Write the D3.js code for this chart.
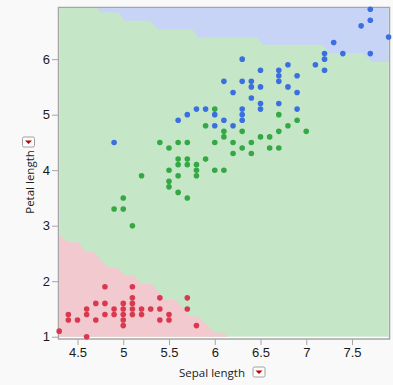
<!DOCTYPE html>
<html>
<head>
<meta charset="utf-8">
<script src="https://cdn.jsdelivr.net/npm/d3@7"></script>
<style>
	html, body { margin: 0; padding: 0; background: #f9f9f9; }
	svg { display: block; font-family: "Open Sans", "Noto Sans", sans-serif; }
</style>
</head>
<body>
<svg width="393" height="385"></svg>
<script>
// observed points (sepal length, petal length) by species
const setosaSepal = [4.3, 4.4, 4.4, 4.5, 4.6, 4.6, 4.6, 4.7, 4.7, 4.8, 4.8, 4.8, 4.9, 4.9, 5.0, 5.0, 5.0, 5.0, 5.0, 5.1, 5.1, 5.1, 5.1, 5.1, 5.2, 5.2, 5.3, 5.4, 5.4, 5.4, 5.5, 5.5, 5.7, 5.7, 5.8];
const setosaPetal = [1.1, 1.3, 1.4, 1.3, 1.0, 1.4, 1.5, 1.3, 1.6, 1.4, 1.6, 1.9, 1.4, 1.5, 1.2, 1.3, 1.4, 1.5, 1.6, 1.4, 1.5, 1.6, 1.7, 1.9, 1.4, 1.5, 1.5, 1.3, 1.5, 1.7, 1.3, 1.4, 1.5, 1.7, 1.2];

const versicolorSepal = [5.4, 5.5, 5.6, 5.7, 5.6, 5.6, 5.7, 5.7, 5.8, 5.5, 5.8, 5.2, 5.6, 5.8, 5.5, 5.5, 5.6, 5.7, 5.0, 4.9, 5.0, 5.1, 5.9, 5.9, 6.0, 6.0, 6.0, 6.1, 6.1, 6.1, 6.2, 6.2, 6.3, 6.3, 6.4, 6.4, 6.5, 6.6, 6.6, 6.7, 6.7, 6.7, 6.8, 6.9, 7.0];
const versicolorPetal = [4.5, 4.4, 4.5, 4.5, 4.2, 4.1, 4.2, 4.1, 4.1, 4.0, 4.0, 3.9, 3.9, 3.9, 3.8, 3.7, 3.6, 3.5, 3.5, 3.3, 3.3, 3.0, 4.2, 4.8, 5.1, 4.5, 4.0, 4.7, 4.6, 4.0, 4.5, 4.3, 4.7, 4.4, 4.5, 4.3, 4.6, 4.6, 4.4, 4.4, 4.7, 5.0, 4.8, 4.9, 4.7];

const virginicaSepal = [4.9, 5.6, 5.7, 5.8, 5.9, 6.0, 6.0, 6.1, 6.2, 6.3, 6.3, 6.3, 6.5, 6.5, 6.7, 6.9, 6.4, 6.2, 6.1, 6.3, 6.4, 6.4, 6.5, 6.8, 6.9, 6.7, 6.7, 6.7, 6.5, 6.9, 6.3, 6.8, 7.1, 7.2, 7.2, 7.2, 7.3, 7.4, 7.7, 7.6, 7.7, 7.7, 7.9];
const virginicaPetal = [4.5, 4.9, 5.0, 5.1, 5.1, 5.0, 4.8, 4.9, 4.8, 5.1, 5.0, 4.9, 5.2, 5.1, 5.2, 5.1, 5.3, 5.4, 5.6, 5.6, 5.6, 5.5, 5.5, 5.5, 5.4, 5.6, 5.7, 5.8, 5.8, 5.7, 6.0, 5.9, 5.9, 5.8, 6.0, 6.1, 6.3, 6.1, 6.1, 6.6, 6.7, 6.9, 6.4];

// decision region boundaries (data units)
const setosaRegionX = [4.30, 4.30, 4.40, 4.51, 4.58, 4.67, 4.83, 4.93, 5.02, 5.11, 5.20, 5.31, 5.46, 5.57, 5.73, 5.82, 6.00, 6.09, 6.14];
const setosaRegionY = [1.00, 2.83, 2.70, 2.70, 2.54, 2.54, 2.24, 2.24, 2.11, 2.11, 1.95, 1.95, 1.66, 1.66, 1.37, 1.36, 1.07, 1.07, 1.00];
const virginicaRegionX = [4.71, 4.76, 4.95, 5.02, 5.29, 5.38, 5.75, 5.82, 6.46, 6.53, 7.17, 7.26, 7.62, 7.72, 7.90, 7.90];
const virginicaRegionY = [6.92, 6.84, 6.84, 6.69, 6.69, 6.54, 6.54, 6.39, 6.39, 6.26, 6.26, 6.11, 6.11, 5.95, 5.95, 6.92];

const xTicks = [4.5, 5, 5.5, 6, 6.5, 7, 7.5];
const yTicks = [1, 2, 3, 4, 5, 6];

const svg = d3.select('svg');

let x = d3.scaleLinear().domain([4.3, 7.9]).range([59.2, 388.6]);
let y = d3.scaleLinear().domain([1, 6.92]).range([336.7, 8.1]);

// frame
svg.append('rect')
	.attr('x', 58.5).attr('y', 7.5)
	.attr('width', 331).attr('height', 331.5)
	.attr('fill', '#ffffff')
	.attr('stroke', '#a6a6a6')
	.attr('stroke-width', 1.5);

// background region (versicolor)
svg.append('rect')
	.attr('x', x(4.3)).attr('y', y(6.92))
	.attr('width', x(7.9) - x(4.3)).attr('height', y(1) - y(6.92))
	.attr('fill', '#c6e6c8');

let line = d3.line().x(d => x(d[0])).y(d => y(d[1]));

svg.append('path')
	.attr('d', line(d3.zip(setosaRegionX, setosaRegionY)) + 'Z')
	.attr('fill', '#f2c9ce');

svg.append('path')
	.attr('d', line(d3.zip(virginicaRegionX, virginicaRegionY)) + 'Z')
	.attr('fill', '#c8d4f5');

// points
let groups = [
	{ sx: setosaSepal, py: setosaPetal, color: '#d9394f' },
	{ sx: versicolorSepal, py: versicolorPetal, color: '#34a843' },
	{ sx: virginicaSepal, py: virginicaPetal, color: '#3a6fe0' }
];
groups.forEach(g => {
	svg.append('g')
		.selectAll('circle')
		.data(d3.zip(g.sx, g.py))
		.join('circle')
		.attr('cx', d => x(d[0]))
		.attr('cy', d => y(d[1]))
		.attr('r', 2.8)
		.attr('fill', g.color);
});

// axes
let xAxis = svg.append('g')
	.attr('transform', 'translate(0,339)')
	.call(d3.axisBottom(x).tickValues(xTicks).tickSize(6).tickSizeOuter(0).tickFormat(d3.format('')));
let yAxis = svg.append('g')
	.attr('transform', 'translate(58,0)')
	.call(d3.axisLeft(y).tickValues(yTicks).tickSize(6).tickSizeOuter(0).tickFormat(d3.format('')));

[xAxis, yAxis].forEach(a => {
	a.select('.domain').remove();
	a.selectAll('line').attr('stroke', '#a6a6a6');
	a.selectAll('text').attr('fill', '#1a1a1a').style('font-size', '13px');
});
xAxis.selectAll('text').attr('dy', '0.8em').attr('y', 8);
yAxis.selectAll('text').attr('x', -8);

// axis titles
svg.append('text')
	.attr('x', 212).attr('y', 377)
	.attr('text-anchor', 'middle')
	.style('font-size', '11.5px')
	.attr('fill', '#1a1a1a')
	.text('Sepal length');

svg.append('text')
	.attr('transform', 'translate(34,182) rotate(-90)')
	.attr('text-anchor', 'middle')
	.style('font-size', '11.5px')
	.attr('fill', '#1a1a1a')
	.text('Petal length');

// dropdown buttons
function button(cx, cy) {
	let b = svg.append('g').attr('transform', `translate(${cx},${cy})`);
	b.append('rect')
		.attr('x', -6).attr('y', -5).attr('width', 12).attr('height', 10)
		.attr('rx', 1.5)
		.attr('fill', '#fdfdfd')
		.attr('stroke', '#a0a0a0');
	b.append('path')
		.attr('d', 'M-3.5,-1.5L3.5,-1.5L0,2Z')
		.attr('fill', '#c00000');
}
button(259, 372);
button(28.5, 142);
</script>
</body>
</html>
